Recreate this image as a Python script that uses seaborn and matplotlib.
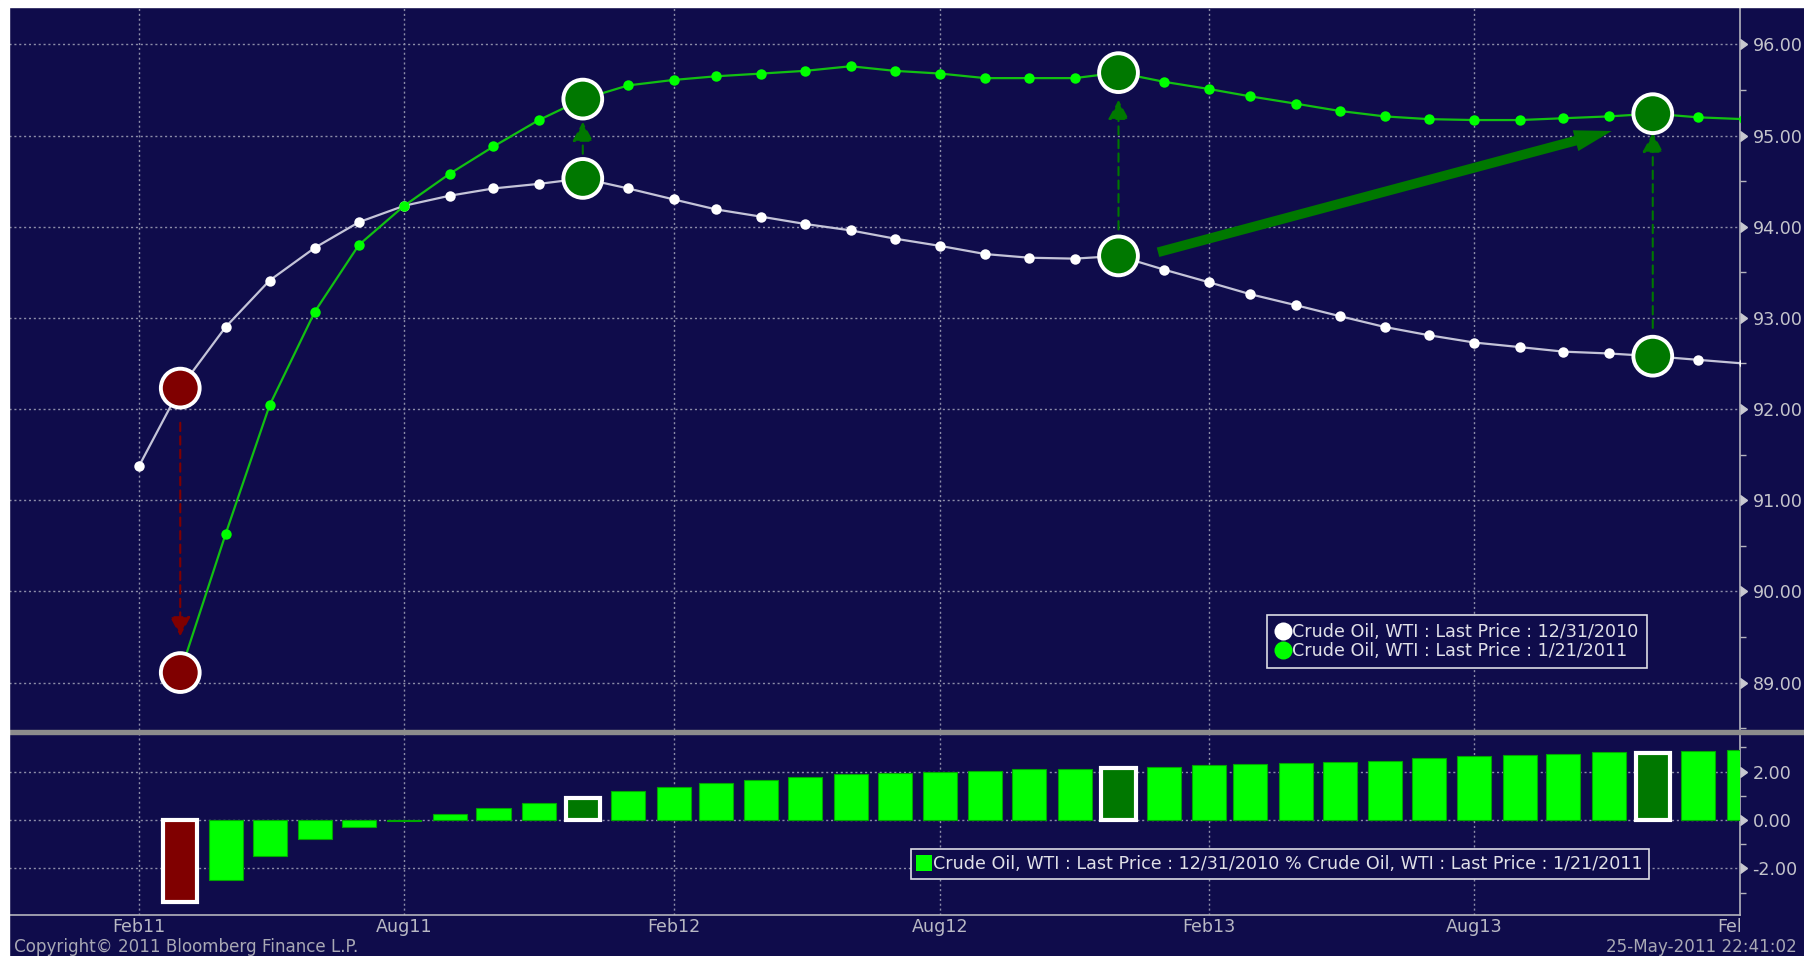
import pandas as pd
import matplotlib
matplotlib.use("Agg")
import matplotlib.pyplot as plt
import matplotlib.dates as mdates
from matplotlib.lines import Line2D
from matplotlib.patches import Rectangle
import seaborn as sns

# contract months on the curve
months = pd.date_range("2011-02-01", "2014-02-01", freq="MS")

# WTI curve as of 12/31/2010 (Feb11 .. Feb14)
curve_dec31 = [91.38, 92.23, 92.90, 93.41, 93.77, 94.05, 94.23, 94.34, 94.42, 94.47,
               94.53, 94.42, 94.30, 94.19, 94.11, 94.03, 93.96, 93.87, 93.79, 93.70,
               93.66, 93.65, 93.68, 93.53, 93.39, 93.26, 93.14, 93.02, 92.90, 92.81,
               92.73, 92.68, 92.63, 92.61, 92.58, 92.54, 92.50]

# WTI curve as of 1/21/2011 (Mar11 .. Feb14)
curve_jan21 = [89.11, 90.63, 92.04, 93.07, 93.80, 94.23, 94.58, 94.88, 95.17, 95.40,
               95.55, 95.61, 95.65, 95.68, 95.71, 95.76, 95.71, 95.68, 95.63, 95.63,
               95.63, 95.69, 95.59, 95.51, 95.43, 95.35, 95.27, 95.21, 95.18, 95.17,
               95.17, 95.19, 95.21, 95.24, 95.20, 95.18]

# % change between the two curves (Mar11 .. Feb14)
spread_pct = [-3.38, -2.47, -1.48, -0.77, -0.29, -0.02, 0.26, 0.51, 0.70, 0.90,
              1.19, 1.35, 1.54, 1.66, 1.79, 1.90, 1.94, 2.00, 2.04, 2.10, 2.10, 2.16,
              2.18, 2.25, 2.30, 2.34, 2.39, 2.44, 2.54, 2.63, 2.69, 2.74, 2.80, 2.78,
              2.84, 2.90]

red_month = "2011-03-01"
green_months = ["2011-12-01", "2012-12-01", "2013-12-01"]
# dashed arrows: (month, start offset from 12/31 curve, end offset from 1/21 curve)
shift_arrows = [("2011-03-01", -0.38, 0.40), ("2011-12-01", 0.27, -0.25),
                ("2012-12-01", 0.29, -0.30), ("2013-12-01", 0.31, -0.21)]
trend_from = ("2012-12-28", 93.72)
trend_to = ("2013-11-03", 95.05)

tick_dates = ["2011-02-01", "2011-08-01", "2012-02-01", "2012-08-01",
              "2013-02-01", "2013-08-01", "2014-02-01"]
tick_labels = ["Feb11", "Aug11", "Feb12", "Aug12", "Feb13", "Aug13", "Feb14"]
price_ticks = [89, 90, 91, 92, 93, 94, 95, 96]
spread_ticks = [-2, 0, 2]

label_dec31 = "Crude Oil, WTI : Last Price : 12/31/2010"
label_jan21 = "Crude Oil, WTI : Last Price : 1/21/2011"
label_spread = label_dec31 + " % " + label_jan21

navy = "#0f0c4b"
bright = "#00ff00"
dark_green = "#007800"
dark_red = "#800000"
grey_txt = "#c4c4cc"
grid_col = "#8c8ca8"
fs = 12.6

sns.set_theme(style="dark")
plt.rcParams["font.family"] = ["DejaVu Sans"]

W, H = 1804, 956
fig = plt.figure(figsize=(W / 100, H / 100), dpi=100, facecolor=navy)

left, right = 9, 1740
ax = fig.add_axes([left / W, 1 - 730 / H, (right - left) / W, (730 - 7) / H])
ax_low = fig.add_axes([left / W, 1 - 915 / H, (right - left) / W, (915 - 734) / H])

x_all = mdates.date2num(months)
x_new = x_all[1:]
xlim = (mdates.date2num(months[0] - pd.Timedelta(days=89)),
        mdates.date2num(months[-1] - pd.Timedelta(days=2.4)))
xticks = mdates.date2num(pd.to_datetime(tick_dates))

for a in (ax, ax_low):
    a.set_facecolor(navy)
    a.set_axisbelow(True)
    for s in ("left", "top", "bottom"):
        a.spines[s].set_visible(False)
    a.spines["right"].set_color("#b4b4bc")
    a.spines["right"].set_linewidth(1.2)
    a.grid(True, color=grid_col, linestyle=(0, (1.5, 2)), linewidth=1.0)
    a.yaxis.tick_right()
    a.tick_params(axis="y", which="major", length=0, pad=9, labelcolor=grey_txt,
                  labelsize=fs)
    a.tick_params(axis="y", which="minor", length=4, width=1, color="#b4b4bc",
                  direction="out", right=True, left=False)
    a.tick_params(axis="x", length=0, labelbottom=False)
    a.set_xticks(xticks[xticks < xlim[1]])

ax_low.spines["bottom"].set_visible(True)
ax_low.spines["bottom"].set_color("#b4b4bc")
ax_low.spines["bottom"].set_linewidth(1.2)

# --- upper panel: the two curves
sns.lineplot(x=x_all, y=curve_dec31, ax=ax, color="#c4c4d8", linewidth=1.6,
             marker="o", markersize=7.5, markerfacecolor="white",
             markeredgewidth=0, zorder=3)
sns.lineplot(x=x_new, y=curve_jan21, ax=ax, color="#12c012", linewidth=1.6,
             marker="o", markersize=7.5, markerfacecolor=bright,
             markeredgewidth=0, zorder=3)

old = pd.Series(curve_dec31, index=months)
new = pd.Series(curve_jan21, index=months[1:])
hi = pd.to_datetime([red_month] + green_months)
hi_cols = [dark_red] + [dark_green] * len(green_months)
for series in (old, new):
    sns.scatterplot(x=mdates.date2num(hi), y=series[hi].values, ax=ax, s=780,
                    hue=hi.astype(str), palette=hi_cols, edgecolor="white",
                    linewidth=2.8, zorder=6, legend=False)

for m, a0, b0 in shift_arrows:
    d = pd.Timestamp(m)
    col = dark_red if m == red_month else dark_green
    xm = mdates.date2num(d)
    ax.annotate("", xy=(xm, new[d] + b0), xytext=(xm, old[d] + a0),
                arrowprops=dict(arrowstyle="-|>,head_length=0.6,head_width=0.32",
                                mutation_scale=20, color=col, lw=1.5,
                                linestyle=(0, (4, 2.5)), shrinkA=0, shrinkB=0),
                zorder=4)

ax.annotate("", xy=(mdates.date2num(pd.Timestamp(trend_to[0])), trend_to[1]),
            xytext=(mdates.date2num(pd.Timestamp(trend_from[0])), trend_from[1]),
            arrowprops=dict(arrowstyle="simple,head_length=2.7,head_width=1.55,tail_width=0.7",
                            mutation_scale=10, color=dark_green, lw=0,
                            shrinkA=0, shrinkB=0), zorder=5)

ax.set_xlim(xlim)
ax.set_ylim(88.48, 96.41)
ax.set_yticks(price_ticks)
ax.set_yticklabels([f"{v:.2f}" for v in price_ticks])
ax.set_yticks([v + 0.5 for v in range(88, 96)], minor=True)
ax.set_xlabel("")
ax.set_ylabel("")

leg = ax.legend(handles=[Line2D([], [], ls="none", marker="o", markersize=13,
                                markerfacecolor="white", markeredgewidth=0),
                         Line2D([], [], ls="none", marker="o", markersize=13,
                                markerfacecolor=bright, markeredgewidth=0)],
                labels=[label_dec31, label_jan21], loc="upper left",
                bbox_to_anchor=(1267 / W, 1 - 615 / H), bbox_transform=fig.transFigure,
                fancybox=False, framealpha=1, facecolor=navy, edgecolor="#dcdce4",
                borderpad=0.45, borderaxespad=0, handlelength=0.9, handletextpad=0.1,
                labelspacing=0.05, fontsize=fs)
leg.get_frame().set_linewidth(1.2)
for t in leg.get_texts():
    t.set_color("#e0e0e8")

# --- lower panel: % change bars
sns.barplot(x=x_new, y=spread_pct, ax=ax_low, native_scale=True, width=0.83,
            color=bright, errorbar=None, saturation=1, zorder=3)
for d, bar in zip(months[1:], ax_low.patches):
    if d == pd.Timestamp(red_month):
        bar.set_facecolor(dark_red)
        bar.set_edgecolor("white")
        bar.set_linewidth(3)
    elif d in pd.to_datetime(green_months):
        bar.set_facecolor(dark_green)
        bar.set_edgecolor("white")
        bar.set_linewidth(3)
    else:
        bar.set_facecolor(bright)
        bar.set_edgecolor("#00a800")
        bar.set_linewidth(0.8)

ax_low.set_xlim(xlim)
ax_low.set_xticks(xticks[xticks < xlim[1]])
ax_low.set_ylim(-3.92, 3.55)
ax_low.set_yticks(spread_ticks)
ax_low.set_yticklabels([f"{v:.2f}" for v in spread_ticks])
ax_low.set_yticks([-3, -1, 1, 3], minor=True)
ax_low.set_xlabel("")
ax_low.set_ylabel("")

leg2 = ax_low.legend(handles=[Line2D([], [], ls="none", marker="s", markersize=12,
                                     markerfacecolor=bright, markeredgewidth=0)],
                     labels=[label_spread], loc="upper left",
                     bbox_to_anchor=(911 / W, 1 - 849 / H), bbox_transform=fig.transFigure,
                     fancybox=False, framealpha=1, facecolor=navy, edgecolor="#dcdce4",
                     borderpad=0.35, borderaxespad=0, handlelength=0.8,
                     handletextpad=0.1, fontsize=fs)
leg2.get_frame().set_linewidth(1.2)
for t in leg2.get_texts():
    t.set_color("#e0e0e8")

# right-axis tick carets
for a, ticks in ((ax, price_ticks), (ax_low, spread_ticks)):
    a.plot([1] * len(ticks), ticks, transform=a.get_yaxis_transform(), ls="none",
           marker=9, markersize=7, color="#c8c8d0", clip_on=False, zorder=7)

# x labels, the last one cut at the axis edge
clip = Rectangle((0, 0), right / W, 1, transform=fig.transFigure)
for d, lab in zip(xticks, tick_labels):
    t = ax_low.text(d, -12 / 181, lab, transform=ax_low.get_xaxis_transform(),
                    ha="center", va="center", color="#b8b8c4", fontsize=fs,
                    clip_on=True)
    t.set_clip_path(clip)

# separator band and white frame strips
fig.add_artist(Rectangle((left / W, 1 - 734 / H), 1, 4 / H, transform=fig.transFigure,
                         color="#8c8c8c", zorder=10))
fig.add_artist(Rectangle((0, 1 - 7 / H), 1, 7 / H, transform=fig.transFigure,
                         color="white", zorder=10))
fig.add_artist(Rectangle((0, 0), left / W, 1, transform=fig.transFigure,
                         color="white", zorder=10))

fig.text(14 / W, 1 - 947 / H, "Copyright\u00a9 2011 Bloomberg Finance L.P.",
         color="#a8a8b4", fontsize=fs - 0.5, va="center", ha="left")
fig.text(1797 / W, 1 - 947 / H, "25-May-2011 22:41:02", color="#a8a8b4",
         fontsize=fs - 0.5, va="center", ha="right")

fig.savefig("out.png", dpi=100, facecolor=navy)
